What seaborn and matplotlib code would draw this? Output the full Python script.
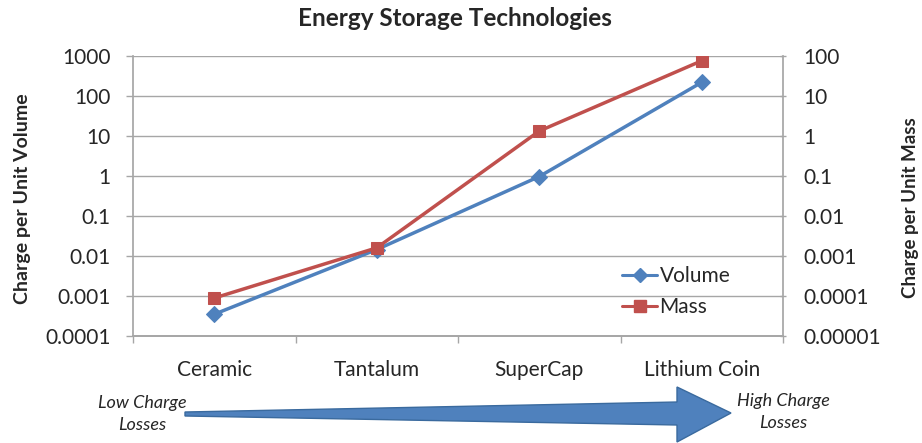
import matplotlib
matplotlib.use("Agg")
import matplotlib.pyplot as plt
import seaborn as sns
import pandas as pd
from matplotlib.patches import Polygon
from matplotlib.lines import Line2D

categories = ["Ceramic", "Tantalum", "SuperCap", "Lithium Coin"]
volume = [0.00035, 0.0145, 0.97, 220]
mass = [0.000089, 0.0016, 1.33, 76]
left_ticks = [0.0001, 0.001, 0.01, 0.1, 1, 10, 100, 1000]
left_labels = ["0.0001", "0.001", "0.01", "0.1", "1", "10", "100", "1000"]
right_ticks = [0.00001, 0.0001, 0.001, 0.01, 0.1, 1, 10, 100]
right_labels = ["0.00001", "0.0001", "0.001", "0.01", "0.1", "1", "10", "100"]

BLUE = "#4F81BD"
RED = "#C0504D"
GRID = "#A6A6A6"

sns.set_theme(style="white")
plt.rcParams["font.family"] = ["Lato", "DejaVu Sans"]

df_v = pd.DataFrame({"cat": range(len(categories)), "val": volume})
df_m = pd.DataFrame({"cat": range(len(categories)), "val": mass})

fig = plt.figure(figsize=(9.22, 4.43), dpi=100)
ax = fig.add_axes([133/922, 1-336/443, 650/922, 280/443])
ax2 = ax.twinx()

sns.lineplot(data=df_v, x="cat", y="val", ax=ax, color=BLUE, marker="D",
             markersize=8, markeredgecolor=BLUE, linewidth=2.5, legend=False)
sns.lineplot(data=df_m, x="cat", y="val", ax=ax2, color=RED, marker="s",
             markersize=9, markeredgecolor=RED, linewidth=2.5, legend=False)

for a, lo, hi in ((ax, 1e-4, 1e3), (ax2, 1e-5, 1e2)):
    a.set_yscale("log")
    a.set_ylim(lo, hi)
    a.set_xlim(-0.5, len(categories) - 0.5)
    a.minorticks_off()

TICKFS = 15
ax.set_yticks(left_ticks)
ax.set_yticklabels(left_labels)
ax2.set_yticks(right_ticks)
ax2.set_yticklabels(right_labels)
ax.yaxis.grid(True, color=GRID, linewidth=1)
ax.set_axisbelow(True)

ax.set_xticks(range(len(categories)))
ax.set_xticklabels(categories)
ax.set_xticks([i + 0.5 for i in range(-1, len(categories))], minor=True)
ax.tick_params(axis="x", which="major", length=0, pad=17, labelsize=TICKFS)
ax.tick_params(axis="x", which="minor", length=5, color=GRID, width=1, direction="out", bottom=True)
ax.tick_params(axis="y", length=5, color=GRID, width=1, direction="out", left=True, labelsize=TICKFS, pad=11)
ax2.tick_params(axis="y", length=5, color=GRID, width=1, direction="inout", right=True, labelsize=TICKFS, pad=12)
ax.set_xlabel("")
ax2.set_xlabel("")
ax.set_ylabel("Charge per Unit Volume", fontsize=14, fontweight="bold")
ax2.set_ylabel("Charge per Unit Mass", fontsize=13.5, fontweight="bold", rotation=90)
ax.yaxis.label.set_va("center")
ax.yaxis.label.set_ha("center")
ax2.yaxis.label.set_va("center")
ax2.yaxis.label.set_ha("center")
ax.yaxis.set_label_coords((23 - 133) / 650, 1 - (199 - 56) / 280)
ax2.yaxis.set_label_coords((910 - 133) / 650, 1 - (208 - 56) / 280)

for a in (ax, ax2):
    a.spines["top"].set_visible(False)
    a.spines["left"].set_color(GRID)
    a.spines["right"].set_color(GRID)
    a.spines["bottom"].set_color(GRID)
ax.spines["right"].set_visible(False)
ax2.spines["left"].set_visible(False)

handles = [Line2D([], [], color=BLUE, marker="D", markersize=7, linewidth=2.2),
           Line2D([], [], color=RED, marker="s", markersize=9, linewidth=2.2)]
ax2.legend(handles, ["Volume", "Mass"], loc="upper left",
           bbox_to_anchor=((622 - 133) / 650, 1 - (266 - 56) / 280),
           frameon=False, fontsize=TICKFS, handlelength=1.7, handletextpad=0.1,
           labelspacing=0.55, borderaxespad=0, borderpad=0)

fig.suptitle("Energy Storage Technologies", x=455/922, y=1-18/443, va="center",
             fontsize=17.5, fontweight="bold")


def fx(px):
    return px / 922


def fy(py):
    return 1 - py / 443


arrow_pts = [(185, 412), (677, 402), (677, 387), (731, 413), (677, 442), (677, 425), (185, 416)]
fig.patches.append(Polygon([(fx(x), fy(y)) for x, y in arrow_pts], closed=True,
                           transform=fig.transFigure, facecolor=BLUE,
                           edgecolor="#3A6A9E", linewidth=1))
fig.text(fx(142), fy(414), "Low Charge\nLosses", ha="center", va="center",
         fontsize=13, style="italic", linespacing=1.5)
fig.text(fx(783), fy(412), "High Charge\nLosses", ha="center", va="center",
         fontsize=13, style="italic", linespacing=1.5)

fig.savefig("out.png", dpi=100, facecolor="white")
